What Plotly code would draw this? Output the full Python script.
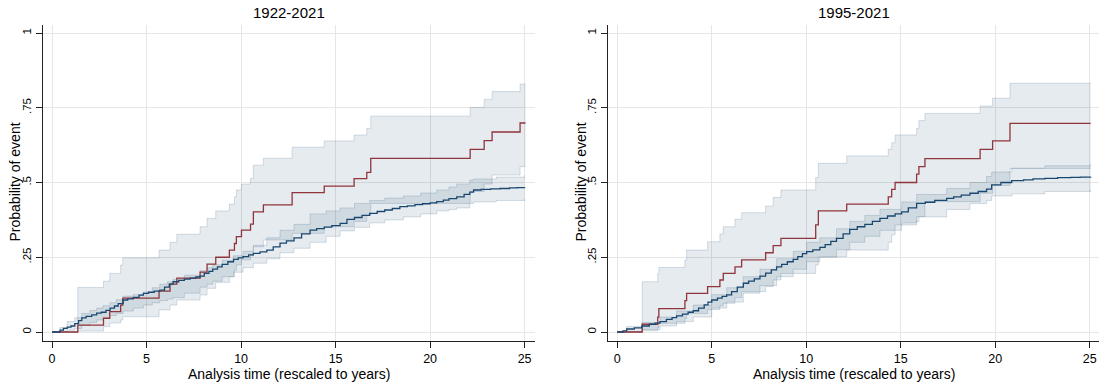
import plotly.graph_objects as go

# ---------------- data: 1922-2021 panel ----------------
red1_t = [0, 1.36, 2.72, 3.05, 3.63, 3.74, 5.66, 6.24, 6.6, 7.83, 8.2, 8.66, 9.38, 9.65, 9.75,
          10.02, 10.5, 10.65, 11.18, 12.7, 14.4, 15.98, 16.65, 16.86, 22.12, 22.86, 23.28, 24.76, 25.05]
red1_p = [0, 0.023, 0.046, 0.068, 0.09, 0.113, 0.137, 0.16, 0.18, 0.20, 0.227, 0.25, 0.274, 0.296, 0.319,
          0.341, 0.361, 0.402, 0.425, 0.466, 0.488, 0.513, 0.534, 0.581, 0.611, 0.64, 0.669, 0.699, 0.699]
red1_up = [0, 0.149, 0.17, 0.196, 0.224, 0.248, 0.274, 0.30, 0.327, 0.352, 0.38, 0.405, 0.428, 0.452, 0.475,
           0.495, 0.514, 0.558, 0.581, 0.618, 0.639, 0.659, 0.681, 0.722, 0.751, 0.778, 0.804, 0.829, 0.829]
red1_lo = [0, 0.003, 0.018, 0.03, 0.04, 0.051, 0.074, 0.09, 0.107, 0.124, 0.146, 0.166, 0.185, 0.207, 0.225,
           0.241, 0.255, 0.285, 0.308, 0.33, 0.352, 0.37, 0.39, 0.43, 0.47, 0.495, 0.525, 0.553, 0.553]

navy1_t = [0, 0.42, 0.6, 0.8, 1.0, 1.2, 1.4, 1.57, 1.8, 2.1, 2.36, 2.6, 2.85, 3.07, 3.3, 3.5, 3.76, 4.0,
           4.3, 4.6, 4.83, 5.1, 5.4, 5.7, 5.95, 6.2, 6.4, 6.7, 7.0, 7.3, 7.6, 7.83, 8.05, 8.3, 8.5, 8.75,
           9.0, 9.3, 9.6, 9.85, 10.1, 10.4, 10.65, 11.0, 11.36, 11.7, 12.06, 12.4, 12.8, 13.2, 13.65, 14.0,
           14.4, 14.8, 15.24, 15.6, 16.0, 16.4, 16.8, 17.2, 17.6, 18.0, 18.4, 18.8, 19.2, 19.6, 20.0, 20.35,
           20.7, 21.0, 21.41, 21.8, 22.1, 22.3, 22.7, 23.2, 23.7, 24.2, 24.6, 25.0]
navy1_p = [0, 0.006, 0.012, 0.016, 0.02, 0.028, 0.038, 0.047, 0.052, 0.057, 0.063, 0.066, 0.072, 0.08,
           0.087, 0.095, 0.107, 0.111, 0.116, 0.123, 0.129, 0.133, 0.137, 0.14, 0.15, 0.16, 0.168, 0.173,
           0.177, 0.18, 0.184, 0.187, 0.196, 0.203, 0.21, 0.218, 0.226, 0.235, 0.243, 0.248, 0.252, 0.258,
           0.263, 0.268, 0.274, 0.285, 0.297, 0.305, 0.315, 0.328, 0.341, 0.346, 0.351, 0.356, 0.363, 0.377,
           0.383, 0.39, 0.397, 0.403, 0.408, 0.413, 0.419, 0.422, 0.426, 0.429, 0.432, 0.436, 0.441, 0.446,
           0.452, 0.46, 0.468, 0.475, 0.477, 0.479, 0.48, 0.482, 0.483, 0.484]

navy1_ci_t = [0, 0.42, 0.8, 1.2, 1.57, 2.0, 2.36, 2.7, 3.07, 3.4, 3.76, 4.3, 4.83, 5.3, 5.7, 6.1, 6.4, 7.0,
              7.83, 8.2, 8.5, 9.0, 9.6, 10.1, 10.65, 11.36, 12.06, 12.8, 13.65, 14.5, 15.24, 16.0, 16.8,
              17.6, 18.59, 19.5, 20.35, 21.0, 21.41, 22.1, 22.3, 23.5, 25.0]
navy1_lo = [0, 0.0, 0.006, 0.012, 0.022, 0.032, 0.04, 0.046, 0.055, 0.062, 0.07, 0.08, 0.09, 0.098, 0.105,
            0.11, 0.115, 0.13, 0.15, 0.16, 0.17, 0.185, 0.2, 0.215, 0.23, 0.245, 0.265, 0.28, 0.3, 0.32,
            0.338, 0.35, 0.365, 0.375, 0.385, 0.395, 0.405, 0.41, 0.415, 0.43, 0.435, 0.44, 0.445]
navy1_up = [0, 0.015, 0.035, 0.048, 0.062, 0.072, 0.08, 0.088, 0.098, 0.108, 0.12, 0.125, 0.134, 0.148,
            0.16, 0.168, 0.176, 0.19, 0.205, 0.215, 0.225, 0.24, 0.255, 0.27, 0.29, 0.315, 0.34, 0.36, 0.395,
            0.405, 0.415, 0.43, 0.44, 0.448, 0.455, 0.465, 0.475, 0.485, 0.495, 0.508, 0.512, 0.518, 0.525]

# ---------------- data: 1995-2021 panel ----------------
red2_t = [0, 1.32, 2.14, 2.2, 3.58, 3.67, 4.78, 5.43, 5.61, 6.23, 6.58, 7.85, 8.25, 8.66, 10.5, 10.64,
          12.14, 14.34, 14.52, 14.7, 15.84, 15.96, 16.28, 19.2, 19.86, 20.78, 25.05]
red2_p = [0, 0.026, 0.05, 0.078, 0.105, 0.129, 0.152, 0.174, 0.196, 0.218, 0.241, 0.265, 0.289, 0.313,
          0.358, 0.405, 0.428, 0.452, 0.477, 0.50, 0.528, 0.553, 0.58, 0.611, 0.639, 0.698, 0.698]
red2_up = [0, 0.168, 0.195, 0.216, 0.241, 0.274, 0.302, 0.328, 0.352, 0.377, 0.399, 0.421, 0.45, 0.475,
           0.517, 0.564, 0.589, 0.611, 0.633, 0.659, 0.681, 0.707, 0.731, 0.756, 0.782, 0.832, 0.832]
red2_lo = [0, 0.004, 0.015, 0.029, 0.045, 0.062, 0.075, 0.088, 0.096, 0.115, 0.135, 0.152, 0.174, 0.196,
           0.224, 0.252, 0.274, 0.3, 0.325, 0.358, 0.37, 0.386, 0.436, 0.464, 0.49, 0.547, 0.547]

navy2_t = [0, 0.3, 0.5, 0.9, 1.3, 1.7, 2.0, 2.26, 2.6, 2.9, 3.14, 3.45, 3.75, 4.02, 4.3, 4.6, 4.8, 5.0,
           5.3, 5.55, 5.79, 6.05, 6.35, 6.67, 6.95, 7.25, 7.55, 7.85, 8.15, 8.43, 8.7, 9.0, 9.31, 9.55, 9.8,
           10.02, 10.35, 10.72, 11.0, 11.3, 11.6, 11.95, 12.3, 12.7, 13.1, 13.5, 13.9, 14.3, 14.7, 15.05,
           15.4, 15.84, 16.3, 16.8, 17.43, 17.8, 18.2, 18.66, 19.1, 19.54, 19.81, 20.3, 20.87, 21.5, 22.0,
           22.63, 23.3, 24.0, 24.5, 25.05]
navy2_p = [0, 0.004, 0.01, 0.014, 0.02, 0.026, 0.03, 0.035, 0.042, 0.048, 0.054, 0.06, 0.066, 0.071, 0.08,
           0.091, 0.1, 0.107, 0.113, 0.119, 0.124, 0.135, 0.15, 0.163, 0.17, 0.178, 0.187, 0.197, 0.208,
           0.218, 0.226, 0.235, 0.243, 0.252, 0.262, 0.269, 0.275, 0.283, 0.292, 0.303, 0.313, 0.328, 0.343,
           0.352, 0.36, 0.37, 0.38, 0.388, 0.395, 0.402, 0.415, 0.43, 0.434, 0.44, 0.447, 0.452, 0.458, 0.464,
           0.47, 0.478, 0.492, 0.5, 0.506, 0.509, 0.512, 0.514, 0.516, 0.517, 0.518, 0.519]

navy2_ci_t = [0, 0.5, 1.3, 2.26, 3.14, 4.02, 5.0, 5.79, 6.67, 7.55, 8.43, 9.31, 10.02, 10.72, 11.6, 12.3,
              13.1, 13.9, 15.05, 15.84, 17.43, 18.66, 19.54, 19.81, 20.87, 22.63, 25.05]
navy2_lo = [0, 0.002, 0.008, 0.02, 0.035, 0.05, 0.08, 0.1, 0.13, 0.155, 0.185, 0.21, 0.235, 0.25, 0.275,
            0.3, 0.32, 0.34, 0.365, 0.385, 0.41, 0.43, 0.44, 0.455, 0.462, 0.47, 0.477]
navy2_up = [0, 0.018, 0.032, 0.05, 0.07, 0.09, 0.125, 0.148, 0.185, 0.21, 0.245, 0.27, 0.3, 0.315, 0.345,
            0.37, 0.39, 0.41, 0.435, 0.46, 0.48, 0.5, 0.52, 0.535, 0.548, 0.556, 0.564]

titles = ["1922-2021", "1995-2021"]
x_title = "Analysis time (rescaled to years)"
y_title = "Probability of event"
x_ticks = [0, 5, 10, 15, 20, 25]
y_ticks = [0, 0.25, 0.5, 0.75, 1]
y_ticktext = ["0", ".25", ".5", ".75", "1"]

NAVY = "#1A476F"
MAROON = "#90353B"
BAND = "rgba(26,71,111,0.11)"
BAND_EDGE = "rgba(26,71,111,0.17)"
FONT = "Liberation Sans, Arial, sans-serif"

W, H = 1099, 385
fig = go.Figure()


def band(t, lo, up, xa, ya):
    fig.add_trace(go.Scatter(x=t, y=up, xaxis=xa, yaxis=ya, mode="lines",
                             line=dict(shape="hv", color=BAND_EDGE, width=1),
                             hoverinfo="skip", showlegend=False))
    fig.add_trace(go.Scatter(x=t, y=lo, xaxis=xa, yaxis=ya, mode="lines",
                             line=dict(shape="hv", color=BAND_EDGE, width=1),
                             fill="tonexty", fillcolor=BAND,
                             hoverinfo="skip", showlegend=False))


def curve(t, p, color, xa, ya):
    fig.add_trace(go.Scatter(x=t, y=p, xaxis=xa, yaxis=ya, mode="lines",
                             line=dict(shape="hv", color=color, width=1.3),
                             showlegend=False))


panels = [
    ("x", "y", red1_t, red1_p, red1_lo, red1_up, navy1_t, navy1_p, navy1_ci_t, navy1_lo, navy1_up),
    ("x2", "y2", red2_t, red2_p, red2_lo, red2_up, navy2_t, navy2_p, navy2_ci_t, navy2_lo, navy2_up),
]
for xa, ya, rt, rp, rlo, rup, nt, npv, nct, nlo, nup in panels:
    band(rt, rlo, rup, xa, ya)
    band(nct, nlo, nup, xa, ya)
    curve(rt, rp, MAROON, xa, ya)
    curve(nt, npv, NAVY, xa, ya)

ydom = [(H - 341) / H, (H - 25) / H]
common_x = dict(tickvals=x_ticks, showgrid=True, gridcolor="#E6E6E6", gridwidth=1,
                zeroline=False, showline=True, linecolor="#222", linewidth=1.2,
                ticks="outside", ticklen=6, tickcolor="#222",
                tickfont=dict(family=FONT, size=12.5, color="#000"))
common_y = dict(tickvals=y_ticks, ticktext=y_ticktext, range=[-0.0301, 1.0268],
                showgrid=True, gridcolor="#E6E6E6", gridwidth=1,
                zeroline=False, showline=True, linecolor="#222", linewidth=1.2,
                ticks="outside", ticklen=6, tickcolor="#222", tickangle=-90,
                tickfont=dict(family=FONT, size=11.5, color="#000"), domain=ydom)

fig.update_layout(
    width=W, height=H,
    margin=dict(l=0, r=0, t=0, b=0),
    paper_bgcolor="white", plot_bgcolor="white",
    xaxis=dict(domain=[43 / W, 535 / W], range=[-0.48, 25.55], anchor="y", **common_x),
    yaxis=dict(anchor="x", **common_y),
    xaxis2=dict(domain=[608 / W, 1.0], range=[-0.49, 25.49], anchor="y2", **common_x),
    yaxis2=dict(anchor="x2", **common_y),
)

ann = []
centers = [(43 + 535) / 2, (608 + 1099) / 2]
ylab_x = [14, 580]
for i in range(2):
    ann.append(dict(text=titles[i], x=centers[i] / W, y=(H - 12) / H, xref="paper", yref="paper",
                    xanchor="center", yanchor="middle", showarrow=False,
                    font=dict(family=FONT, size=15, color="#000")))
    ann.append(dict(text=x_title, x=centers[i] / W, y=(H - 374) / H, xref="paper", yref="paper",
                    xanchor="center", yanchor="middle", showarrow=False,
                    font=dict(family=FONT, size=14, color="#000")))
    ann.append(dict(text=y_title, x=ylab_x[i] / W, y=(H - 182.5) / H, xref="paper", yref="paper",
                    xanchor="center", yanchor="middle", showarrow=False, textangle=-90,
                    font=dict(family=FONT, size=14, color="#000")))
fig.update_layout(annotations=ann)

fig.write_html("out.html")
